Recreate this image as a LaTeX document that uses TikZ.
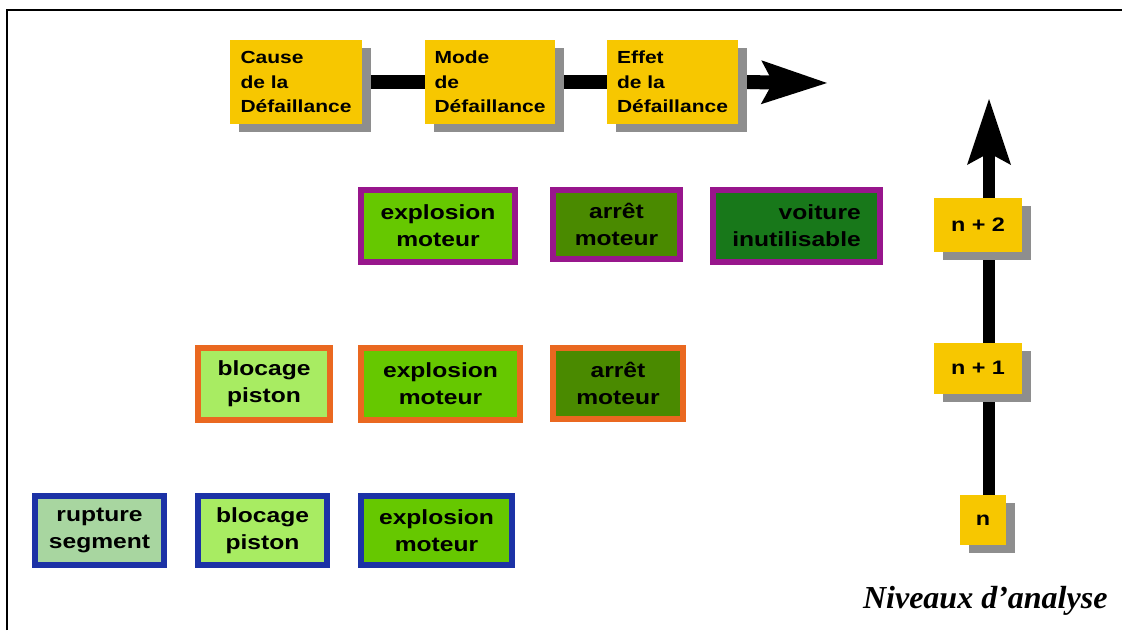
\documentclass[tikz,border=0pt]{standalone}
\usepackage{fontspec}
\setmainfont{Liberation Serif}
\newfontfamily\boxfont[FakeStretch=1.2]{Liberation Sans}
\usetikzlibrary{arrows.meta,shadows,backgrounds}

\definecolor{ambre}{HTML}{F7C700}
\definecolor{ombre}{HTML}{8E8E8E}
\definecolor{bordsys}{HTML}{98168C}
\definecolor{bordsub}{HTML}{EA6820}
\definecolor{bordcomp}{HTML}{1C32A6}
\definecolor{vertexpl}{HTML}{66C800}
\definecolor{vertarret}{HTML}{4A8A00}
\definecolor{vertvoit}{HTML}{18781A}
\definecolor{vertbloc}{HTML}{A8EC62}
\definecolor{vertrupt}{HTML}{A8D6A0}

\tikzset{
  ybox/.style={fill=ambre, inner sep=0pt, align=left,
    font=\boxfont\bfseries\fontsize{17.5}{24.5}\selectfont,
    drop shadow={shadow xshift=9pt, shadow yshift=-8pt, fill=ombre, opacity=1}},
  lvlbox/.style={ybox, align=center, font=\boxfont\bfseries\fontsize{19.5}{22}\selectfont},
  fbox/.style={draw, line width=6pt, inner sep=0pt, align=center,
    font=\boxfont\bfseries\fontsize{20.5}{27}\selectfont},
  rowsys/.style={fbox, draw=bordsys},
  rowsub/.style={fbox, draw=bordsub},
  rowcomp/.style={fbox, draw=bordcomp},
  fexpl/.style={fill=vertexpl},
  farret/.style={fill=vertarret},
  fvoit/.style={fill=vertvoit},
  fbloc/.style={fill=vertbloc},
  frupt/.style={fill=vertrupt},
  shaft/.style={line width=14pt, draw=black},
  vshaft/.style={line width=12pt, draw=black},
  bigtip/.style={-{Stealth[length=66pt, width=44pt, inset=12pt, line width=0pt]}},
}

\begin{document}
\begin{tikzpicture}[x=1pt, y=-1pt]
\useasboundingbox (0,0) rectangle (1122,630);

% frame
\draw[line width=2.5pt] (7,630) -- (7,10) -- (1122,10);

% cause / mode / effect chain
\node[ybox, minimum width=132pt, minimum height=84pt] (c1) at (296,82) {Cause\\de la\\Défaillance};
\node[ybox, minimum width=130pt, minimum height=84pt] (m1) at (490,82) {Mode\\de\\Défaillance};
\node[ybox, minimum width=131pt, minimum height=84pt] (e1) at (672.5,82) {Effet\\de la\\Défaillance};
\coordinate (hend) at (827,83);

% level n+2
\node[rowsys, fexpl,  minimum width=154pt, minimum height=72pt] (s1) at (438,226) {explosion\\moteur};
\node[rowsys, farret, minimum width=127pt, minimum height=69pt] (s2) at (616.5,224.5) {arrêt\\moteur};
\node[rowsys, fvoit,  minimum width=167pt, minimum height=72pt, align=right] (s3) at (796.5,226) {voiture\\inutilisable};

% level n+1
\node[rowsub, fbloc,  minimum width=132pt, minimum height=72pt] (u1) at (264,384) {blocage\\piston};
\node[rowsub, fexpl,  minimum width=159pt, minimum height=72pt] (u2) at (440.5,384) {explosion\\moteur};
\node[rowsub, farret, minimum width=130pt, minimum height=71pt] (u3) at (618,383.5) {arrêt\\moteur};

% level n
\node[rowcomp, frupt, minimum width=129pt, minimum height=69pt] (k1) at (99.5,530.5) {rupture\\segment};
\node[rowcomp, fbloc, minimum width=129pt, minimum height=69pt] (k2) at (262.5,530.5) {blocage\\piston};
\node[rowcomp, fexpl, minimum width=151pt, minimum height=69pt] (k3) at (436.5,530.5) {explosion\\moteur};

% analysis levels
\node[lvlbox, minimum width=88pt, minimum height=54pt] (n2) at (978,225) {n + 2};
\node[lvlbox, minimum width=88pt, minimum height=51pt] (n1) at (978,368) {n + 1};
\node[lvlbox, minimum width=46pt, minimum height=50pt] (n0) at (983,520) {n};
\coordinate (vend) at (989,99);

\begin{pgfonlayer}{background}
  \draw[shaft] (c1.east) -- (m1.west);
  \draw[shaft] (m1.east) -- (e1.west);
  \draw[shaft, bigtip] (e1.east) -- (hend);
  \draw[vshaft, bigtip] (n0.north -| vend) -- (vend);
\end{pgfonlayer}

\node[anchor=base east, font=\bfseries\itshape\fontsize{32}{36}\selectfont] (titre) at (1111,608) {Niveaux d’analyse};
\end{tikzpicture}
\end{document}
